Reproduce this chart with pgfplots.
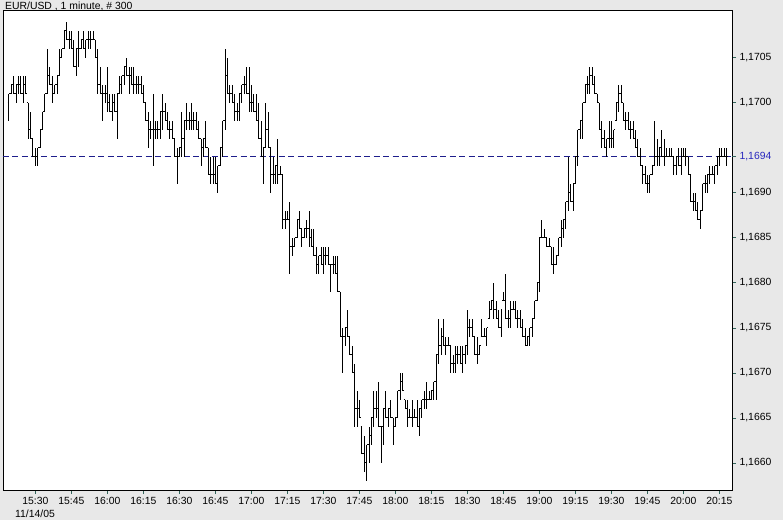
\documentclass[border=0pt]{standalone}
\usepackage{pgfplots}
\pgfplotsset{compat=1.18}
\usepackage{pgfplotstable}
\usepackage{fontspec}
\setmainfont{Liberation Sans}
\definecolor{bg}{RGB}{232,232,232}
\definecolor{tickc}{RGB}{50,100,90}
\definecolor{refline}{RGB}{30,30,140}
\definecolor{reflabel}{RGB}{40,40,190}
\pgfdeclareplotmark{otick}{\pgfpathmoveto{\pgfqpoint{-1.25pt}{0pt}}\pgfpathlineto{\pgfqpoint{0pt}{0pt}}\pgfusepathqstroke}
\pgfdeclareplotmark{ctick}{\pgfpathmoveto{\pgfqpoint{0pt}{0pt}}\pgfpathlineto{\pgfqpoint{1.25pt}{0pt}}\pgfusepathqstroke}
\pgfplotstableread{
i o h l c
0 1.1700 1.1701 1.1698 1.1701
1 1.1701 1.1702 1.1701 1.1702
2 1.1702 1.1703 1.1701 1.1701
3 1.1701 1.1702 1.1700 1.1702
4 1.1702 1.1703 1.1701 1.1702
5 1.1702 1.1703 1.1701 1.1701
6 1.1701 1.1703 1.1700 1.1702
7 1.1702 1.1703 1.1701 1.1701
8 1.1700 1.1700 1.1696 1.1697
9 1.1697 1.1699 1.1696 1.1696
10 1.1696 1.1696 1.1694 1.1694
11 1.1694 1.1695 1.1693 1.1694
12 1.1694 1.1695 1.1693 1.1695
13 1.1695 1.1697 1.1695 1.1697
14 1.1697 1.1699 1.1697 1.1699
15 1.1699 1.1701 1.1699 1.1701
16 1.1701 1.1706 1.1701 1.1703
17 1.1703 1.1704 1.1702 1.1702
18 1.1702 1.1703 1.1700 1.1701
19 1.1701 1.1702 1.1701 1.1702
20 1.1702 1.1703 1.1701 1.1703
21 1.1703 1.1706 1.1703 1.1705
22 1.1705 1.1706 1.1705 1.1706
23 1.1706 1.1708 1.1706 1.1708
24 1.1708 1.1709 1.1707 1.1707
25 1.1707 1.1708 1.1706 1.1707
26 1.1707 1.1708 1.1706 1.1706
27 1.1706 1.1707 1.1704 1.1704
28 1.1704 1.1706 1.1703 1.1706
29 1.1706 1.1708 1.1704 1.1706
30 1.1706 1.1707 1.1706 1.1707
31 1.1707 1.1708 1.1706 1.1706
32 1.1706 1.1707 1.1705 1.1707
33 1.1707 1.1708 1.1706 1.1707
34 1.1707 1.1708 1.1706 1.1707
35 1.1707 1.1708 1.1707 1.1707
36 1.1707 1.1707 1.1705 1.1705
37 1.1705 1.1706 1.1701 1.1702
38 1.1702 1.1704 1.1701 1.1701
39 1.1701 1.1702 1.1698 1.1701
40 1.1701 1.1702 1.1700 1.1701
41 1.1701 1.1704 1.1699 1.1700
42 1.1700 1.1701 1.1699 1.1699
43 1.1699 1.1701 1.1698 1.1700
44 1.1700 1.1701 1.1699 1.1699
45 1.1699 1.1701 1.1696 1.1701
46 1.1701 1.1703 1.1701 1.1702
47 1.1702 1.1703 1.1701 1.1703
48 1.1703 1.1704 1.1702 1.1704
49 1.1704 1.1705 1.1703 1.1703
50 1.1703 1.1704 1.1701 1.1703
51 1.1703 1.1704 1.1702 1.1702
52 1.1702 1.1704 1.1701 1.1702
53 1.1702 1.1703 1.1701 1.1702
54 1.1702 1.1703 1.1701 1.1702
55 1.1702 1.1703 1.1701 1.1701
56 1.1701 1.1702 1.1700 1.1700
57 1.1700 1.1700 1.1698 1.1698
58 1.1698 1.1699 1.1695 1.1697
59 1.1697 1.1698 1.1696 1.1697
60 1.1697 1.1701 1.1693 1.1697
61 1.1697 1.1698 1.1696 1.1697
62 1.1697 1.1698 1.1696 1.1697
63 1.1697 1.1699 1.1696 1.1699
64 1.1699 1.1701 1.1697 1.1699
65 1.1699 1.1700 1.1698 1.1698
66 1.1698 1.1699 1.1697 1.1697
67 1.1697 1.1698 1.1696 1.1697
68 1.1697 1.1698 1.1696 1.1696
69 1.1696 1.1696 1.1694 1.1694
70 1.1694 1.1695 1.1691 1.1694
71 1.1694 1.1695 1.1694 1.1695
72 1.1695 1.1699 1.1694 1.1696
73 1.1696 1.1698 1.1694 1.1698
74 1.1698 1.1700 1.1697 1.1698
75 1.1698 1.1699 1.1697 1.1698
76 1.1698 1.1700 1.1697 1.1698
77 1.1698 1.1699 1.1697 1.1698
78 1.1698 1.1699 1.1697 1.1697
79 1.1697 1.1698 1.1696 1.1696
80 1.1696 1.1696 1.1693 1.1695
81 1.1695 1.1696 1.1694 1.1696
82 1.1696 1.1698 1.1695 1.1695
83 1.1695 1.1695 1.1692 1.1692
84 1.1692 1.1694 1.1691 1.1692
85 1.1692 1.1694 1.1691 1.1692
86 1.1692 1.1694 1.1691 1.1691
87 1.1691 1.1693 1.1690 1.1693
88 1.1693 1.1695 1.1693 1.1695
89 1.1695 1.1698 1.1694 1.1698
90 1.1698 1.1706 1.1697 1.1703
91 1.1703 1.1705 1.1701 1.1701
92 1.1701 1.1702 1.1700 1.1701
93 1.1701 1.1702 1.1700 1.1700
94 1.1700 1.1701 1.1698 1.1699
95 1.1699 1.1700 1.1698 1.1699
96 1.1699 1.1701 1.1698 1.1701
97 1.1701 1.1702 1.1700 1.1702
98 1.1702 1.1703 1.1701 1.1702
99 1.1702 1.1704 1.1701 1.1701
100 1.1701 1.1704 1.1699 1.1700
101 1.1700 1.1702 1.1699 1.1700
102 1.1700 1.1701 1.1699 1.1699
103 1.1699 1.1701 1.1698 1.1698
104 1.1698 1.1700 1.1696 1.1696
105 1.1696 1.1698 1.1694 1.1694
106 1.1694 1.1695 1.1691 1.1695
107 1.1695 1.1700 1.1695 1.1697
108 1.1697 1.1699 1.1695 1.1695
109 1.1695 1.1695 1.1690 1.1692
110 1.1692 1.1694 1.1691 1.1692
111 1.1692 1.1693 1.1691 1.1693
112 1.1693 1.1696 1.1691 1.1692
113 1.1692 1.1693 1.1692 1.1692
114 1.1692 1.1692 1.1686 1.1687
115 1.1687 1.1688 1.1686 1.1687
116 1.1687 1.1688 1.1687 1.1687
117 1.1687 1.1689 1.1681 1.1684
118 1.1684 1.1685 1.1683 1.1684
119 1.1684 1.1685 1.1684 1.1685
120 1.1685 1.1687 1.1685 1.1687
121 1.1687 1.1688 1.1686 1.1686
122 1.1686 1.1686 1.1684 1.1685
123 1.1685 1.1686 1.1685 1.1686
124 1.1686 1.1687 1.1685 1.1686
125 1.1686 1.1688 1.1684 1.1685
126 1.1685 1.1686 1.1684 1.1684
127 1.1684 1.1686 1.1683 1.1683
128 1.1683 1.1684 1.1681 1.1682
129 1.1682 1.1683 1.1681 1.1683
130 1.1683 1.1684 1.1682 1.1682
131 1.1682 1.1684 1.1681 1.1683
132 1.1683 1.1684 1.1682 1.1683
133 1.1683 1.1684 1.1682 1.1682
134 1.1682 1.1682 1.1679 1.1682
135 1.1682 1.1683 1.1681 1.1682
136 1.1682 1.1683 1.1681 1.1681
137 1.1681 1.1683 1.1679 1.1679
138 1.1679 1.1679 1.1674 1.1674
139 1.1674 1.1675 1.1670 1.1674
140 1.1674 1.1675 1.1673 1.1675
141 1.1675 1.1677 1.1674 1.1674
142 1.1674 1.1674 1.1672 1.1672
143 1.1672 1.1673 1.1670 1.1670
144 1.1670 1.1671 1.1664 1.1666
145 1.1666 1.1668 1.1664 1.1666
146 1.1666 1.1667 1.1665 1.1665
147 1.1664 1.1664 1.1661 1.1661
148 1.1661 1.1663 1.1659 1.1660
149 1.1660 1.1662 1.1658 1.1662
150 1.1662 1.1664 1.1660 1.1663
151 1.1663 1.1665 1.1662 1.1665
152 1.1665 1.1668 1.1664 1.1666
153 1.1666 1.1668 1.1665 1.1666
154 1.1666 1.1669 1.1664 1.1664
155 1.1664 1.1664 1.1660 1.1664
156 1.1664 1.1666 1.1662 1.1666
157 1.1666 1.1668 1.1665 1.1665
158 1.1665 1.1666 1.1664 1.1666
159 1.1666 1.1667 1.1665 1.1665
160 1.1665 1.1665 1.1662 1.1664
161 1.1664 1.1665 1.1664 1.1665
162 1.1665 1.1668 1.1665 1.1668
163 1.1668 1.1670 1.1667 1.1669
164 1.1669 1.1670 1.1668 1.1668
165 1.1667 1.1667 1.1666 1.1666
166 1.1666 1.1667 1.1664 1.1665
167 1.1665 1.1666 1.1665 1.1665
168 1.1665 1.1667 1.1664 1.1665
169 1.1665 1.1666 1.1665 1.1665
170 1.1665 1.1667 1.1664 1.1664
171 1.1664 1.1666 1.1663 1.1666
172 1.1666 1.1667 1.1665 1.1667
173 1.1667 1.1668 1.1666 1.1667
174 1.1667 1.1669 1.1666 1.1667
175 1.1667 1.1668 1.1667 1.1667
176 1.1667 1.1668 1.1667 1.1668
177 1.1668 1.1669 1.1667 1.1669
178 1.1669 1.1672 1.1667 1.1672
179 1.1672 1.1676 1.1671 1.1673
180 1.1673 1.1675 1.1672 1.1674
181 1.1674 1.1676 1.1673 1.1673
182 1.1673 1.1674 1.1672 1.1673
183 1.1673 1.1674 1.1673 1.1673
184 1.1673 1.1673 1.1670 1.1671
185 1.1671 1.1672 1.1670 1.1671
186 1.1671 1.1673 1.1670 1.1672
187 1.1672 1.1673 1.1671 1.1672
188 1.1672 1.1673 1.1671 1.1671
189 1.1671 1.1673 1.1670 1.1672
190 1.1672 1.1673 1.1671 1.1673
191 1.1673 1.1677 1.1672 1.1675
192 1.1675 1.1676 1.1674 1.1675
193 1.1675 1.1676 1.1674 1.1674
194 1.1674 1.1674 1.1672 1.1672
195 1.1672 1.1674 1.1671 1.1672
196 1.1672 1.1673 1.1672 1.1673
197 1.1674 1.1676 1.1674 1.1674
198 1.1674 1.1675 1.1674 1.1674
199 1.1674 1.1675 1.1673 1.1675
200 1.1676 1.1678 1.1676 1.1677
201 1.1677 1.1678 1.1677 1.1678
202 1.1678 1.1680 1.1676 1.1677
203 1.1677 1.1678 1.1676 1.1676
204 1.1676 1.1677 1.1675 1.1675
205 1.1675 1.1677 1.1674 1.1677
206 1.1678 1.1679 1.1678 1.1678
207 1.1678 1.1681 1.1676 1.1676
208 1.1676 1.1677 1.1675 1.1676
209 1.1676 1.1678 1.1675 1.1677
210 1.1677 1.1678 1.1677 1.1677
211 1.1677 1.1678 1.1676 1.1676
212 1.1676 1.1677 1.1675 1.1676
213 1.1676 1.1677 1.1675 1.1675
214 1.1675 1.1676 1.1674 1.1674
215 1.1674 1.1675 1.1673 1.1673
216 1.1673 1.1674 1.1673 1.1674
217 1.1674 1.1675 1.1673 1.1675
218 1.1675 1.1676 1.1674 1.1676
219 1.1676 1.1678 1.1676 1.1678
220 1.1678 1.1680 1.1678 1.1680
221 1.1680 1.1685 1.1679 1.1685
222 1.1685 1.1687 1.1685 1.1685
223 1.1685 1.1686 1.1685 1.1685
224 1.1685 1.1685 1.1684 1.1684
225 1.1684 1.1685 1.1684 1.1684
226 1.1684 1.1684 1.1682 1.1682
227 1.1682 1.1684 1.1681 1.1682
228 1.1682 1.1683 1.1682 1.1683
229 1.1683 1.1685 1.1683 1.1685
230 1.1685 1.1687 1.1684 1.1686
231 1.1686 1.1687 1.1685 1.1687
232 1.1687 1.1689 1.1686 1.1689
233 1.1689 1.1694 1.1688 1.1690
234 1.1690 1.1691 1.1689 1.1689
235 1.1689 1.1691 1.1688 1.1691
236 1.1691 1.1694 1.1691 1.1694
237 1.1694 1.1697 1.1693 1.1697
238 1.1697 1.1698 1.1696 1.1698
239 1.1698 1.1700 1.1696 1.1700
240 1.1700 1.1702 1.1700 1.1702
241 1.1702 1.1703 1.1701 1.1702
242 1.1702 1.1704 1.1701 1.1703
243 1.1703 1.1704 1.1702 1.1702
244 1.1702 1.1703 1.1701 1.1701
245 1.1701 1.1701 1.1700 1.1700
246 1.1700 1.1700 1.1697 1.1697
247 1.1697 1.1698 1.1695 1.1696
248 1.1696 1.1697 1.1695 1.1695
249 1.1695 1.1696 1.1694 1.1696
250 1.1696 1.1698 1.1695 1.1696
251 1.1696 1.1698 1.1695 1.1696
252 1.1696 1.1697 1.1695 1.1697
253 1.1698 1.1700 1.1698 1.1700
254 1.1700 1.1702 1.1699 1.1701
255 1.1701 1.1702 1.1700 1.1700
256 1.1700 1.1700 1.1698 1.1698
257 1.1698 1.1699 1.1697 1.1698
258 1.1698 1.1699 1.1697 1.1697
259 1.1697 1.1698 1.1696 1.1697
260 1.1697 1.1698 1.1696 1.1696
261 1.1696 1.1697 1.1695 1.1695
262 1.1695 1.1696 1.1694 1.1694
263 1.1694 1.1695 1.1693 1.1693
264 1.1693 1.1693 1.1691 1.1692
265 1.1692 1.1693 1.1691 1.1691
266 1.1691 1.1692 1.1690 1.1691
267 1.1691 1.1692 1.1690 1.1692
268 1.1692 1.1693 1.1692 1.1693
269 1.1693 1.1698 1.1693 1.1694
270 1.1694 1.1696 1.1693 1.1694
271 1.1694 1.1695 1.1693 1.1695
272 1.1695 1.1697 1.1694 1.1694
273 1.1694 1.1696 1.1693 1.1694
274 1.1694 1.1695 1.1694 1.1694
275 1.1694 1.1695 1.1694 1.1694
276 1.1694 1.1695 1.1694 1.1694
277 1.1694 1.1694 1.1692 1.1693
278 1.1693 1.1694 1.1692 1.1694
279 1.1694 1.1695 1.1693 1.1693
280 1.1693 1.1695 1.1692 1.1694
281 1.1694 1.1695 1.1694 1.1694
282 1.1694 1.1695 1.1693 1.1694
283 1.1694 1.1694 1.1692 1.1692
284 1.1692 1.1692 1.1689 1.1689
285 1.1689 1.1690 1.1688 1.1689
286 1.1689 1.1690 1.1688 1.1688
287 1.1688 1.1689 1.1687 1.1687
288 1.1687 1.1688 1.1686 1.1688
289 1.1688 1.1691 1.1688 1.1691
290 1.1691 1.1692 1.1690 1.1691
291 1.1691 1.1692 1.1690 1.1692
292 1.1692 1.1693 1.1691 1.1692
293 1.1692 1.1693 1.1692 1.1692
294 1.1692 1.1693 1.1691 1.1693
295 1.1693 1.1694 1.1692 1.1694
296 1.1694 1.1695 1.1693 1.1694
297 1.1694 1.1695 1.1694 1.1694
298 1.1694 1.1695 1.1694 1.1694
299 1.1694 1.1695 1.1693 1.1694
}\ohlc
\begin{document}
\begin{tikzpicture}
\fill[bg] (0,0) rectangle (783pt,520pt);
\begin{axis}[
  at={(3pt,30pt)}, anchor=south west,
  scale only axis, width=729pt, height=480pt,
  xmin=-2.5, xmax=301.25,
  ymin=1.1657, ymax=1.17103,
  axis background/.style={fill=white},
  axis line style={black, line width=0.8pt},
  xtick={11,26,41,56,71,86,101,116,131,146,161,176,191,206,221,236,251,266,281,296},
  xticklabels={15:30,15:45,16:00,16:15,16:30,16:45,17:00,17:15,17:30,17:45,18:00,18:15,18:30,18:45,19:00,19:15,19:30,19:45,20:00,20:15},
  ytick={1.1660,1.1665,1.1670,1.1675,1.1680,1.1685,1.1690,1.1700,1.1705},
  extra y ticks={1.1694},
  extra y tick style={yticklabel style={text=reflabel}},
  yticklabel pos=right, ytick pos=right, xtick pos=bottom,
  tick align=outside, major tick length=4pt,
  tick style={tickc, line width=0.8pt},
  scaled y ticks=false,
  yticklabel={\pgfmathprintnumber[fixed,fixed zerofill,precision=4,use comma,assume math mode=true]{\tick}},
  ticklabel style={font=\fontsize{10.4}{12}\selectfont, text=black},
]
\addplot[refline, line width=0.8pt, dash pattern=on 6pt off 3.5pt, forget plot] coordinates {(-2.5,1.1694) (301.25,1.1694)};
\addplot[black, only marks, mark=otick, mark options={line width=1pt, solid}, forget plot,
  error bars/.cd, y dir=both, y explicit, error mark=none,
  error bar style={black, line width=1pt, solid}]
  table[x=i, y=o, y error plus expr=\thisrow{h}-\thisrow{o}, y error minus expr=\thisrow{o}-\thisrow{l}] {\ohlc};
\addplot[black, only marks, mark=ctick, mark options={line width=1pt, solid}, forget plot] table[x=i, y=c] {\ohlc};
\end{axis}
\node[anchor=base west, inner sep=0pt, font=\fontsize{10.4}{12}\selectfont] at (5pt,510.8pt) {EUR/USD , 1 minute, \# 300};
\node[anchor=base west, inner sep=0pt, font=\fontsize{10.4}{12}\selectfont] at (15pt,3pt) {11/14/05};
\pgfresetboundingbox
\path[use as bounding box] (0,0) rectangle (783pt,520pt);
\end{tikzpicture}
\end{document}
